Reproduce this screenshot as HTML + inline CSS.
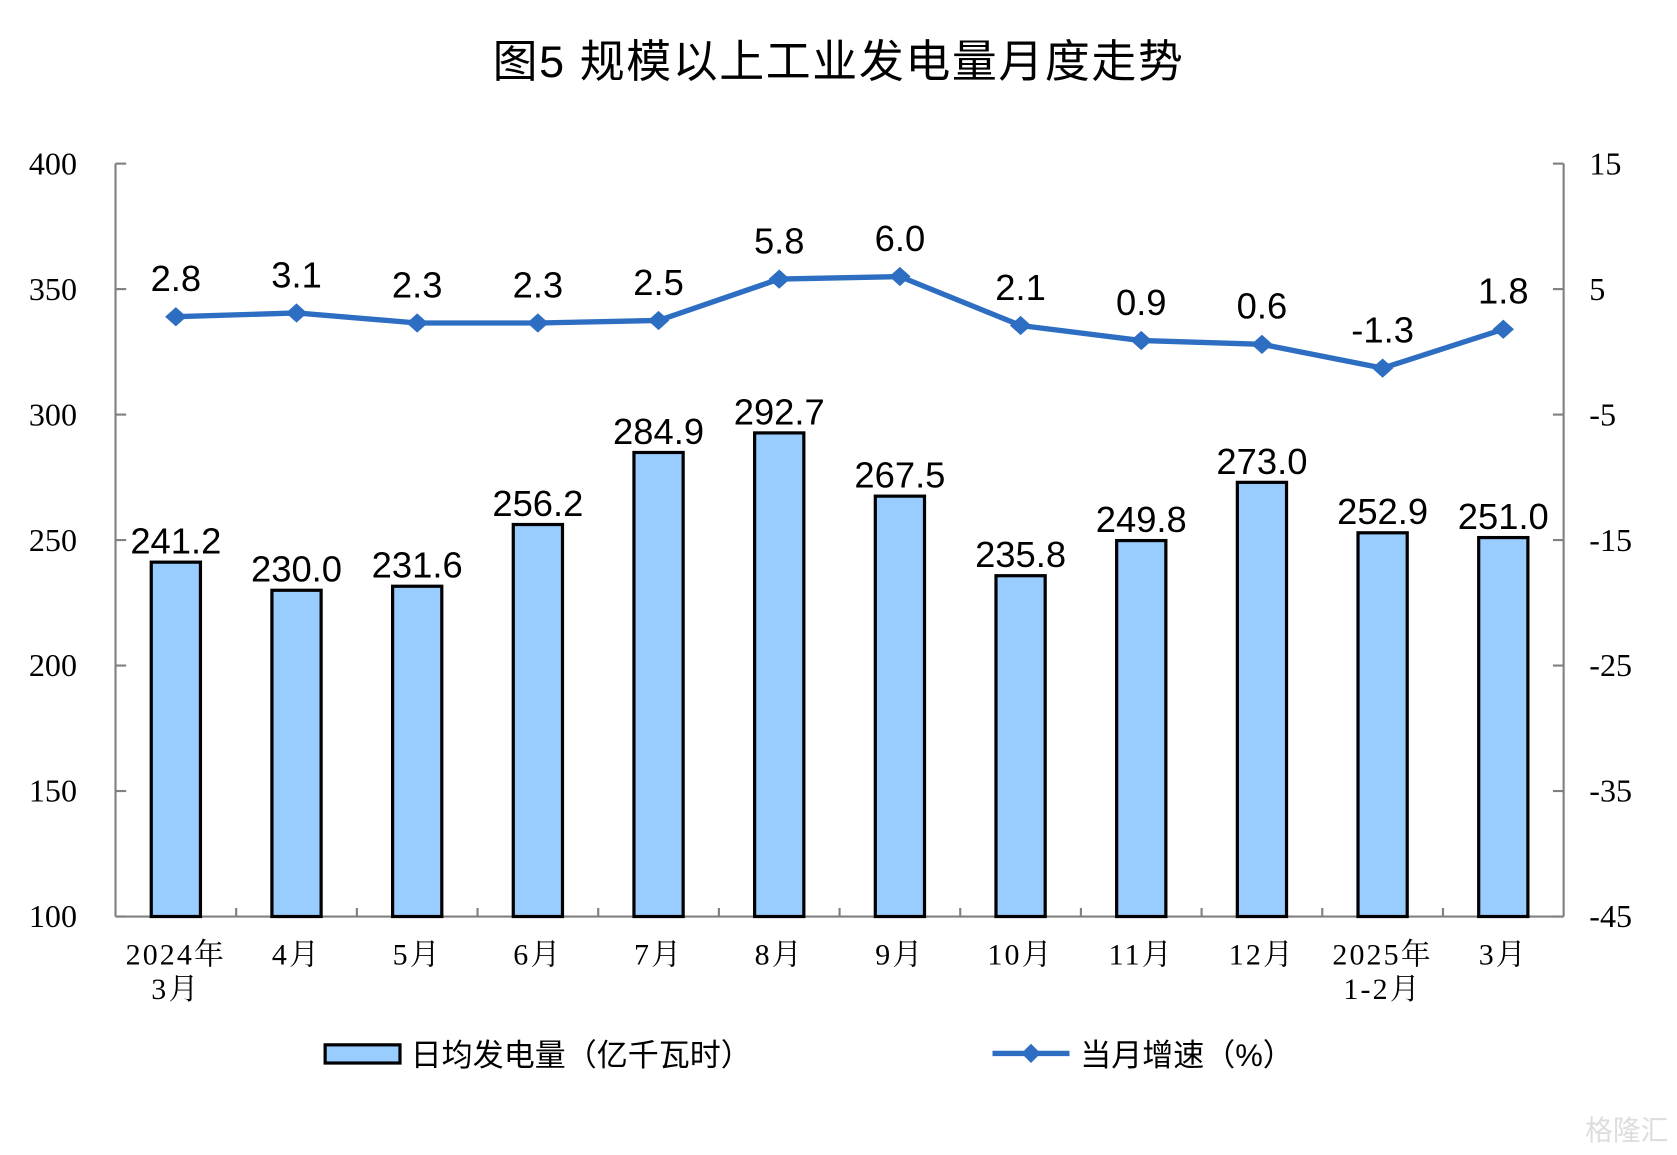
<!DOCTYPE html>
<html><head><meta charset="utf-8"><style>
html,body{margin:0;padding:0;background:#fff;}
svg{display:block;}
</style></head><body>
<svg id="chart" width="1677" height="1155" viewBox="0 0 1568 1080" preserveAspectRatio="none" xmlns="http://www.w3.org/2000/svg">
<text x="784" y="72" text-anchor="middle" font-family="'Liberation Sans','Noto Sans CJK SC',sans-serif" font-size="42" letter-spacing="1.5" fill="#000">图5  规模以上工业发电量月度走势</text>
<g id="axes"></g><g id="bars"></g><g id="line"></g>
<g>
<rect x="304" y="977" width="70" height="17" fill="#99CCFF" stroke="#000" stroke-width="3"/>
<text x="384" y="997" font-family="'Liberation Sans','Noto Sans CJK SC',sans-serif" font-size="29" fill="#000">日均发电量（亿千瓦时）</text>
<line x1="928" y1="985" x2="1000" y2="985" stroke="#2E6EC2" stroke-width="5"/>
<path d="M964 976 L973 985 L964 994 L955 985Z" fill="#2E6EC2"/>
<text x="1010" y="997" font-family="'Liberation Sans','Noto Sans CJK SC',sans-serif" font-size="29" fill="#000">当月增速（%）</text>
</g>
<text x="1560" y="1066" text-anchor="end" font-family="'Liberation Sans','Noto Sans CJK SC',sans-serif" font-size="26" fill="#ddd">格隆汇</text>
</svg>
<script>
const categories=[["2024年","3月"],["4月"],["5月"],["6月"],["7月"],["8月"],["9月"],["10月"],["11月"],["12月"],["2025年","1-2月"],["3月"]];
const barValues=[241.2,230.0,231.6,256.2,284.9,292.7,267.5,235.8,249.8,273.0,252.9,251.0];
const lineValues=[2.8,3.1,2.3,2.3,2.5,5.8,6.0,2.1,0.9,0.6,-1.3,1.8];
const leftTicks=[100,150,200,250,300,350,400];
const rightTicks=[-45,-35,-25,-15,-5,5,15];
const NS="http://www.w3.org/2000/svg";
const X0=108,X1=1462,Y0=857,Y1=153;
const band=(X1-X0)/categories.length;
const xc=i=>X0+band*(i+0.5);
const yL=v=>Y0-(v-100)/300*(Y0-Y1);
const yR=v=>Y0-(v+45)/60*(Y0-Y1);
function mk(tag,attrs,parent,text){const e=document.createElementNS(NS,tag);for(const k in attrs)e.setAttribute(k,attrs[k]);if(text!==undefined)e.textContent=text;parent.appendChild(e);return e;}
const axes=document.getElementById('axes'),bars=document.getElementById('bars'),line=document.getElementById('line');
const serif="'Liberation Serif','Noto Serif CJK SC',serif";
const sans="'Liberation Sans','Noto Sans CJK SC',sans-serif";
let e;
e=mk('line',{x1:X0,y1:Y1,x2:X0,y2:Y0,stroke:'#808080','stroke-width':2},axes);

e=mk('line',{x1:X1,y1:Y1,x2:X1,y2:Y0,stroke:'#808080','stroke-width':2},axes);

e=mk('line',{x1:X0,y1:Y0,x2:X1,y2:Y0,stroke:'#808080','stroke-width':2},axes);

leftTicks.forEach(v=>{
 e=mk('line',{x1:X0,y1:yL(v),x2:X0+10,y2:yL(v),stroke:'#808080','stroke-width':2},axes);
 
 e=mk('text',{x:72,y:yL(v)+10,'text-anchor':'end','font-family':serif,'font-size':30,fill:'#000'},axes,String(v));
 
});
rightTicks.forEach(v=>{
 e=mk('line',{x1:X1-10,y1:yR(v),x2:X1,y2:yR(v),stroke:'#808080','stroke-width':2},axes);
 
 e=mk('text',{x:1486,y:yR(v)+10,'font-family':serif,'font-size':30,fill:'#000'},axes,String(v));
 
});
for(let i=1;i<categories.length;i++){
 e=mk('line',{x1:X0+band*i,y1:Y0-8,x2:X0+band*i,y2:Y0,stroke:'#808080','stroke-width':2},axes);
 
}
categories.forEach((c,i)=>{
 c.forEach((t,j)=>{
  e=mk('text',{x:xc(i),y:902+j*32,'text-anchor':'middle','font-family':serif,'font-size':28,'letter-spacing':2,fill:'#000'},axes,t);
  
 });
});
const bw=46;
barValues.forEach((v,i)=>{
 e=mk('rect',{x:xc(i)-bw/2,y:yL(v),width:bw,height:Y0-yL(v),fill:'#99CCFF',stroke:'#000','stroke-width':3},bars);
 
 e=mk('text',{x:xc(i),y:yL(v)-8,'text-anchor':'middle','font-family':sans,'font-size':34,fill:'#000'},bars,v.toFixed(1));
 
});
const pts=lineValues.map((v,i)=>xc(i)+','+yR(v)).join(' ');
e=mk('polyline',{points:pts,fill:'none',stroke:'#2E6EC2','stroke-width':5,'stroke-linejoin':'round'},line);

lineValues.forEach((v,i)=>{
 const x=xc(i),y=yR(v);
 e=mk('path',{d:`M${x} ${y-9} L${x+10} ${y} L${x} ${y+9} L${x-10} ${y}Z`,fill:'#2E6EC2'},line);
 
 e=mk('text',{x:x,y:y-24,'text-anchor':'middle','font-family':sans,'font-size':34,fill:'#000'},line,v.toFixed(1));
 
});
</script>
</body></html>
